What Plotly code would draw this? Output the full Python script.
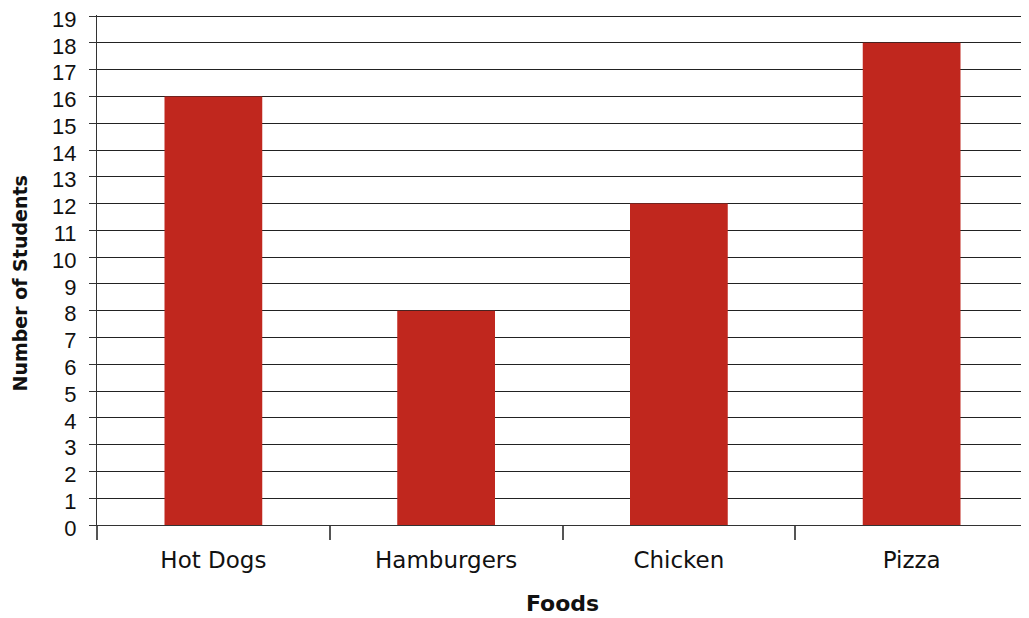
import plotly.graph_objects as go

foods = ["Hot Dogs", "Hamburgers", "Chicken", "Pizza"]
students = [16, 8, 12, 18]
y_ticks = list(range(0, 20))

fig = go.Figure(go.Bar(x=foods, y=students, marker=dict(color="#C0271E", line=dict(width=0)), width=0.42))

# page body has an 8px margin, so the figure is shrunk by that amount
fig.update_layout(
    width=1021, height=610,
    margin=dict(l=89, r=1, t=7, b=93),
    paper_bgcolor="white", plot_bgcolor="white",
    showlegend=False,
)
fig.update_xaxes(
    showline=True, linecolor="#333", linewidth=1,
    ticks="outside", ticklen=14, tickcolor="#555", tickwidth=1.5,
    tickson="boundaries",
    ticklabelstandoff=14,
    tickfont=dict(family="DejaVu Sans", size=23, color="#111"),
    title=dict(text="<b>Foods</b>", font=dict(family="DejaVu Sans", size=22, color="#111"), standoff=24),
    showgrid=False,
    automargin=False,
)
fig.update_yaxes(
    range=[0, 19.04], tickmode="array", tickvals=y_ticks, ticktext=[str(v) for v in y_ticks],
    showline=True, linecolor="#333", linewidth=1,
    ticks="outside", ticklen=7, tickcolor="#333",
    ticklabelstandoff=8, ticklabeloverflow="allow", ticklabelshift=3,
    tickfont=dict(family="Liberation Sans", size=22, color="#111"),
    showgrid=True, gridcolor="#222", gridwidth=1,
    zeroline=False,
    automargin=False,
)
fig.add_annotation(
    text="<b>Number of Students</b>", textangle=-90,
    xref="paper", yref="paper", x=0, y=0.4735, xshift=-77,
    xanchor="center", yanchor="middle", showarrow=False,
    font=dict(family="DejaVu Sans", size=19, color="#111"),
)
fig.write_html("out.html")
